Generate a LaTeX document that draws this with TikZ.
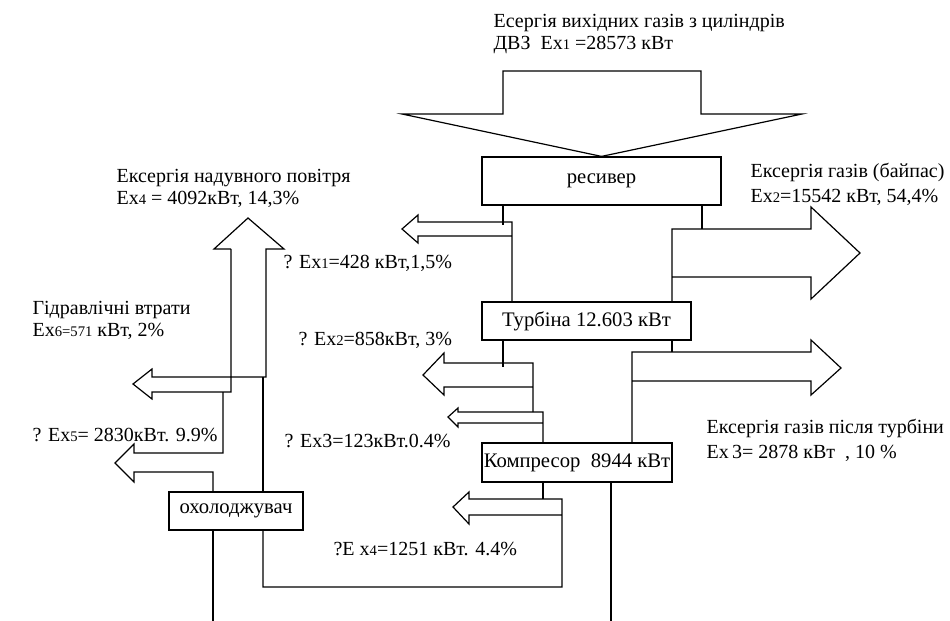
\documentclass[tikz,border=0pt]{standalone}
\usepackage{fontspec}
\setmainfont{Liberation Serif}
\usepackage{tikz}
\usetikzlibrary{calc}
\newcommand{\smallidx}[1]{{\fontsize{11}{11}\selectfont #1}}

\begin{document}
\begin{tikzpicture}[x=0.75pt, y=-0.75pt, line width=0.9pt,
	txt/.style={anchor=west, inner sep=0pt, font=\fontsize{15}{17}\selectfont},
	box/.style={draw=black, rectangle, inner sep=0pt, font=\fontsize{15.5}{17}\selectfont}]
	\useasboundingbox (0,0) rectangle (950,621);
	% blocks
	\node[box, minimum width=179.25pt, minimum height=36pt](rec) at (601.5,181){ресивер};
	\node[box, minimum width=156.75pt, minimum height=28.5pt](turb) at (586.5,321){Турбіна 12.603 кВт\hspace{10pt}};
	\node[box, minimum width=142.5pt, minimum height=29.25pt](comp) at (577,462.5){Компресор\ \ 8944 кВт};
	\node[box, minimum width=100.5pt, minimum height=28.5pt](cool) at (236,511){охолоджувач};
	% exhaust gas into the receiver
	\draw (503,114) -- (503,71) -- (701,71) -- (701,114) -- (802,114) -- (rec.north) -- (402,114) -- cycle;
	% losses between receiver and turbine
	\draw (rec.south -| 503,0) -- (503,225);
	\draw (512,302) -- (512,222) -- (418,222) -- (418,215) -- (402,229) -- (418,243) -- (418,236) -- (512,236);
	\draw (rec.south -| 702,0) -- (702,229);
	\draw (turb.north -| 672,0) -- (672,229) -- (811,229) -- (811,207) -- (860,253) -- (811,299) -- (811,277) -- (672,277);
	% losses between turbine and compressor
	\draw (turb.south -| 503,0) -- (503,367);
	\draw (533,412) -- (533,363) -- (444,363) -- (444,353) -- (423,375) -- (444,395) -- (444,387) -- (533,387);
	\draw (comp.north -| 543,0) -- (543,412) -- (458,412) -- (458,408) -- (448,417) -- (458,427) -- (458,423) -- (543,423);
	\draw (turb.south -| 672,0) -- (672,352);
	\draw (comp.north -| 632,0) -- (632,352) -- (811,352) -- (811,340) -- (841,368) -- (811,395) -- (811,381) -- (632,381);
	% compressor outlet
	\draw (comp.south -| 543,0) -- (543,499);
	\draw (cool.south -| 263,0) -- (263,587) -- (562,587) -- (562,499) -- (469,499) -- (469,492) -- (453,507) -- (469,524) -- (469,515) -- (562,515);
	\draw (comp.south -| 611,0) -- (611,621);
	% charge air after the cooler
	\draw (cool.south -| 213,0) -- (213,621);
	\draw (cool.north -| 213,0) -- (213,472) -- (134,472) -- (134,482) -- (115,463) -- (134,444) -- (134,453) -- (223,453) -- (223,392);
	\draw (231,249) -- (231,392) -- (152,392) -- (152,399) -- (133,384) -- (152,369) -- (152,377) -- (266,377) -- (266,249) -- (284,249) -- (248,218) -- (214,249) -- (231,249);
	\draw (cool.north -| 263,0) -- (263,377);
	% labels
	\node[txt](t1) at (493,23){Есергія вихідних газів з циліндрів};
	\node[txt](t2) at (493,45){ДВЗ\ \ Ex\smallidx{1} =28573 кВт};
	\node[txt](air1) at (116,178){Ексергія надувного повітря};
	\node[txt](air2) at (116,199){Ex\smallidx{4} = 4092кВт, 14,3\%};
	\node[txt](hyd1) at (32,310){Гідравлічні втрати};
	\node[txt](hyd2) at (32,331){Ex\smallidx{6=571} кВт, 2\%};
	\node[txt](loss1) at (283,263){? Ex\smallidx{1}=428 кВт,1,5\%};
	\node[txt](loss2) at (298,340){? Ex\smallidx{2}=858кВт, 3\%};
	\node[txt](loss5) at (32,435){? Ex\smallidx{5}= 2830кВт. 9.9\%};
	\node[txt](loss3) at (284,441){? Ex3=123кВт.0.4\%};
	\node[txt](loss4) at (333,549){?E x\smallidx{4}=1251 кВт. 4.4\%};
	\node[txt](byp1) at (750,172){Ексергія газів (байпас)};
	\node[txt](byp2) at (750,197){Ex\smallidx{2}=15542 кВт, 54,4\%};
	\node[txt](aft1) at (706,428){Ексергія газів після турбіни};
	\node[txt](aft2) at (706,453){Ex\,3= 2878 кВт\ \ , 10 \%};
\end{tikzpicture}
\end{document}
